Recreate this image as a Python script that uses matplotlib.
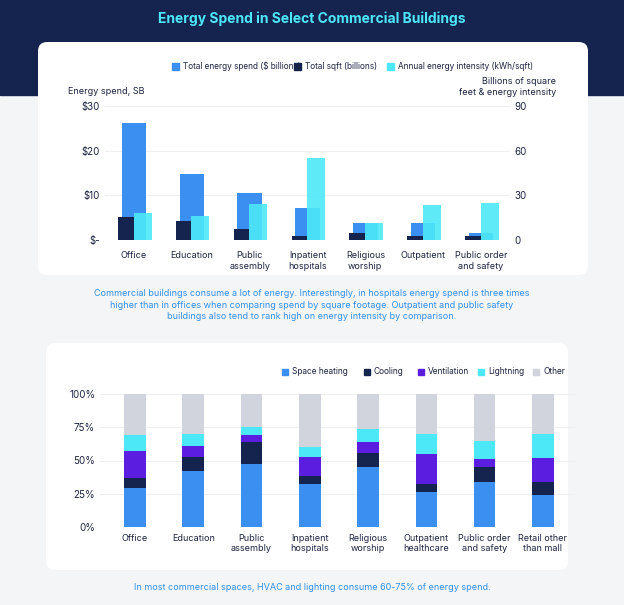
import matplotlib.pyplot as plt
import numpy as np
from matplotlib.patches import FancyBboxPatch, Rectangle

# top chart data
cats1 = ['Office', 'Education', 'Public\nassembly', 'Inpatient\nhospitals', 'Religious\nworship', 'Outpatient', 'Public order\nand safety']
spend = [26.2, 14.7, 10.6, 7.1, 3.9, 3.7, 1.6]          # $ billions (left axis)
sqft = [15.6, 12.7, 7.3, 2.9, 5.0, 2.9, 2.9]            # right axis
intensity = [18.4, 16.3, 24.0, 55.3, 11.1, 23.8, 24.7]  # right axis

# bottom chart data (percent)
cats2 = ['Office', 'Education', 'Public\nassembly', 'Inpatient\nhospitals', 'Religious\nworship', 'Outpatient\nhealthcare', 'Public order\nand safety', 'Retail other\nthan mall']
heating = [29, 42, 47, 32, 45, 26, 34, 24]
cooling = [8, 11, 17, 6.5, 11, 6, 11, 10]
ventilation = [20, 8, 5, 14.5, 8, 23, 6, 18]
lighting = [12, 9, 6, 7, 10, 15, 14, 18]
other = [31, 30, 25, 40, 26, 30, 35, 30]

BLUE = '#3a8ff0'
NAVY = '#14244f'
CYAN = '#4de8f8'
PURPLE = '#5b1ee0'
GRAY = '#d2d4dd'
TXT = '#1c2340'

plt.rcParams['font.family'] = ['Inter', 'DejaVu Sans']
fig = plt.figure(figsize=(6.24, 6.05), dpi=100)
fig.patch.set_facecolor('#f4f5f7')
W, H = 624, 605

def fx(px): return px / W
def fy(py): return 1 - py / H

fig.add_artist(Rectangle((0, fy(95)), 1, 95 / H, transform=fig.transFigure, color=NAVY, zorder=-3))
for (x0, y0, x1, y1) in [(38, 42, 588, 275), (46, 343, 568, 570)]:
    fig.add_artist(FancyBboxPatch((fx(x0), fy(y1)), fx(x1 - x0), (y1 - y0) / H,
                                  boxstyle='round,pad=0,rounding_size=0.015', transform=fig.transFigure,
                                  facecolor='white', edgecolor='none', zorder=-2))

fig.text(0.5, fy(19), 'Energy Spend in Select Commercial Buildings', ha='center', va='center',
         color=CYAN, fontsize=10, fontweight='bold')

# top chart
ax = fig.add_axes([fx(105), fy(240), fx(510 - 105), (240 - 106) / H])
ax2 = ax.twinx()
x = np.arange(len(cats1))
ax.bar(x, spend, width=0.42, color=BLUE, zorder=2)
ax2.bar(x - 0.14, sqft, width=0.27, color=NAVY, zorder=3)
ax2.bar(x + 0.15, intensity, width=0.31, color=CYAN, alpha=0.9, zorder=3)
ax.set_ylim(0, 30)
ax2.set_ylim(0, 90)
ax.set_xlim(-0.5, len(cats1) - 0.5)
ax.set_yticks([0, 10, 20, 30], ['$-', '$10', '$20', '$30'])
ax2.set_yticks([0, 30, 60, 90])
ax.set_xticks(x, cats1)
ax.grid(axis='y', color='#eeeff3', lw=0.8, zorder=0)
ax.set_axisbelow(True)
ax.patch.set_visible(False)
for a in (ax, ax2):
    for s in a.spines.values():
        s.set_visible(False)
    a.tick_params(length=0, labelsize=7, colors=TXT)
ax.tick_params(axis='x', pad=8, labelsize=6.5)
ax2.patch.set_visible(False)
fig.text(fx(68), fy(92), 'Energy spend, SB', fontsize=6.5, color=TXT, va='center')
fig.text(fx(556), fy(87), 'Billions of square\nfeet & energy intensity', fontsize=6.5, color=TXT,
         ha='right', va='center', linespacing=1.3)
for lab, c, lx in [('Total energy spend ($ billions)', BLUE, 172), ('Total sqft (billions)', NAVY, 294),
                   ('Annual energy intensity (kWh/sqft)', CYAN, 387)]:
    fig.add_artist(Rectangle((fx(lx), fy(70)), fx(7), 7 / H, transform=fig.transFigure, color=c, zorder=3))
    fig.text(fx(lx + 11), fy(66.5), lab, fontsize=5.9, color=TXT, va='center', zorder=3)

fig.text(0.5, fy(305), 'Commercial buildings consume a lot of energy. Interestingly, in hospitals energy spend is three times\n'
         'higher than in offices when comparing spend by square footage. Outpatient and public safety\n'
         'buildings also tend to rank high on energy intensity by comparison.',
         ha='center', va='center', fontsize=6.5, color='#2f8fe8', linespacing=1.35)

# bottom chart
bx = fig.add_axes([fx(100), fy(527), fx(575 - 100), (527 - 394) / H])
x2 = np.arange(len(cats2))
bottom = np.zeros(len(cats2))
for vals, c in [(heating, BLUE), (cooling, NAVY), (ventilation, PURPLE), (lighting, CYAN), (other, GRAY)]:
    bx.bar(x2, vals, bottom=bottom, width=0.37, color=c, zorder=2)
    bottom += np.array(vals)
bx.set_ylim(0, 100)
bx.set_xlim(-0.6, len(cats2) - 0.45)
bx.set_yticks([0, 25, 50, 75, 100], ['0%', '25%', '50%', '75%', '100%'])
bx.set_xticks(x2, cats2)
bx.grid(axis='y', color='#eeeff3', lw=0.8, zorder=0)
bx.set_axisbelow(True)
bx.patch.set_visible(False)
for s in bx.spines.values():
    s.set_visible(False)
bx.tick_params(length=0, labelsize=7, colors=TXT)
bx.tick_params(axis='x', labelsize=6.5, pad=5)
for lab, c, lx in [('Space heating', BLUE, 282), ('Cooling', NAVY, 364), ('Ventilation', PURPLE, 418),
                   ('Lightning', CYAN, 478), ('Other', GRAY, 533)]:
    fig.add_artist(Rectangle((fx(lx), fy(375)), fx(6), 6 / H, transform=fig.transFigure, color=c, zorder=3))
    fig.text(fx(lx + 10), fy(372), lab, fontsize=6.0, color=TXT, va='center', zorder=3)

fig.text(0.5, fy(587), 'In most commercial spaces, HVAC and lighting consume 60-75% of energy spend.',
         ha='center', va='center', fontsize=6.5, color='#2f8fe8')

fig.savefig('out.png', dpi=100, facecolor=fig.get_facecolor())
